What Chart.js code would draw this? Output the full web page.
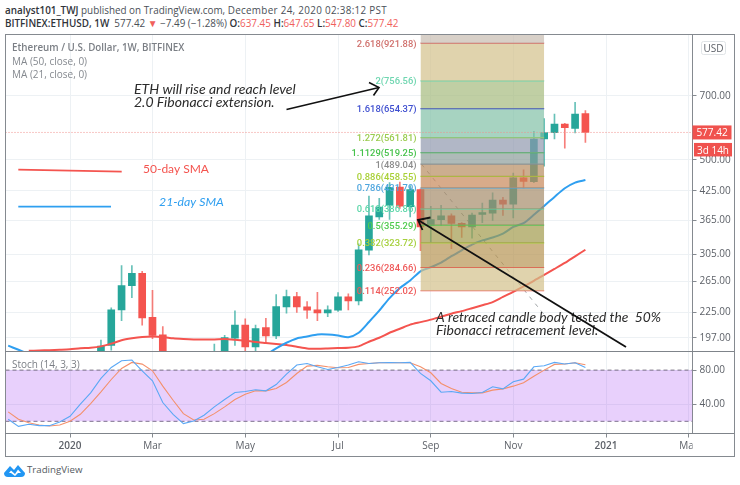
<!DOCTYPE html>
<html>
<head>
<meta charset="utf-8">
<title>ETHUSD</title>
<script src="https://cdn.jsdelivr.net/npm/chart.js@4"></script>
<style>
  body { margin: 0; background: #fff; width: 740px; height: 485px; overflow: hidden; position: relative; font-family: "Open Sans", sans-serif; }
  canvas { position: absolute; left: 0; }
  #priceChart { top: 0; }
  #stochChart { top: 341px; }
  .head { position: absolute; left: 5px; font-size: 9.9px; color: #4a4f57; white-space: pre; }
  .head b { color: #30343a; font-weight: 600; }
  .head i { font-style: normal; color: #f0605c; }
  .head span { letter-spacing: 0.3px; }
  #frame { position: absolute; left: 5px; top: 34px; width: 728px; height: 421px; border: 1.5px solid #858a90; }
  .sep { position: absolute; left: 5px; width: 729px; height: 1px; background: #7f848a; }
  #logo { position: absolute; left: 4px; top: 464px; }
  #tv { position: absolute; left: 27px; top: 463px; font-size: 9.7px; color: #555b62; }
</style>
</head>
<body>
<div class="head" style="top:3px"><b>analyst101_TWJ</b> published on TradingView.com, <span>December 24, 2020 02:38:12 PST</span></div>
<div class="head" style="top:16px"><b>BITFINEX:ETHUSD, 1W</b>  577.42 <i>▼</i> −7.49 (−1.28%) <b>O:</b><i>637.45</i> <b>H:</b><i>647.65</i> <b>L:</b><i>547.80</i> <b>C:</b><i>577.42</i></div>
<canvas id="priceChart" width="740" height="365"></canvas>
<canvas id="stochChart" width="740" height="115"></canvas>
<div id="frame"></div>
<div class="sep" style="top:351px"></div>
<div class="sep" style="top:433px"></div>
<svg id="logo" width="22" height="14" viewBox="0 0 22 14"><path d="M0 9 L6 2 L10 6 L14 1 L21 9 Q21 13 17 13 L4 13 Q0 13 0 9Z M5 9 L7 6.5 L11 10 L14 5.5 L17 9 L14 9 L11 12 L7 9Z" fill="#2196f3" fill-rule="evenodd"/></svg>
<div id="tv">TradingView</div>
<script>
// weeks are counted from the first week of 2020, one candle per week
const xMin = -6.26;
const xMax = 60.39;
const xTickWeeks = [0, 8, 17, 26, 35, 43, 52, 60];
const xTickLabels = ["2020", "Mar", "May", "Jul", "Sep", "Nov", "2021", "Mar"];

const priceMin = 183.8;
const priceMax = 967;
const priceTicks = [700, 500, 425, 365, 305, 265, 225, 197];
const lastPrice = 577.42;

// candles start at week 3, weeks 10-13 are below the visible range
const firstCandle = 3;
const opens = [178, 189.3, 228, 258.7, 276, 219.2, 200, null, null, null, null, 170, 180, 196.5, 210.5, 187.7, 207.8, 199, 231.5, 244.5, 231.6, 228, 224.5, 227.5, 244, 239, 311.5, 371, 394.5, 434, 391.5, 428, 355, 365.5, 373, 358.5, 352, 376, 378.5, 405, 396.5, 455, 446, 558, 577, 603.5, 590, 637.45];
const highs = [194.5, 230.5, 287.5, 287.5, 279, 252.5, 209, null, null, null, null, 190.5, 199.5, 226.8, 217.5, 210.5, 218, 247, 253, 250, 238, 250, 233, 249.5, 248, 322.4, 414, 409, 444, 445, 437, 430, 392, 394, 377, 360, 378.5, 399, 421, 411, 467, 475, 581, 621, 636, 606, 676, 647.65];
const lows = [175, 184.5, 215.5, 243, 210.5, 196, 150, null, null, null, null, 165, 175, 189.3, 180, 183, 191, 196, 224, 225, 218, 215.5, 220, 226, 228, 234, 304, 366, 366, 388, 371, 311, 325, 355, 314, 333, 332, 360, 364, 374, 369, 432, 444, 484, 558, 532, 576, 547.8];
const closes = [188.5, 228, 259, 276, 218.5, 199.5, 170, null, null, null, null, 180, 197.3, 210.5, 187.7, 206.7, 199, 232, 244.5, 231.5, 227.5, 224.5, 228, 244, 239, 312.4, 373, 390.5, 433, 392.5, 428, 352, 366, 373, 358.5, 352, 374.5, 379.5, 405, 396.5, 455, 447, 558, 577, 603.5, 592, 636, 577.42];

const ma50Start = -4;
const ma50 = [184, 184.3, 184.6, 185, 185.5, 186.5, 187, 188.3, 191, 194.4, 196.4, 197.8, 198.3, 197.8, 196.4, 195.7, 195.3, 195.3, 195.3, 195.7, 195, 194, 192.7, 191.7, 190.7, 189.7, 188, 186.3, 186, 186.3, 186.7, 187, 188.3, 192.9, 197, 202.2, 206.5, 211, 213.8, 216.6, 220, 223.5, 226.5, 230, 233.6, 237.5, 244, 250.5, 257.7, 265.5, 274, 282.5, 291.5, 301.8, 312.4];

const ma21Start = -6;
const ma21 = [189, 185, 181, null, null, null, null, null, null, null, null, null, null, null, null, null, null, null, null, null, null, null, null, null, null, 180, 186.3, 191.9, 196.3, 198.3, 200.5, 200.5, 199.4, 197.6, 202.2, 214, 227, 242.5, 255.6, 266, 279, 285, 292, 302, 311.5, 321, 328, 333, 340, 352, 359, 375, 393, 412, 431, 444, 450];

const fibRatios = ["2.618", "2", "1.618", "1.272", "1.1129", "1", "0.886", "0.786", "0.618", "0.5", "0.382", "0.236", "0.114"];
const fibPrices = [921.88, 756.56, 654.37, 561.81, 519.25, 489.04, 458.55, 431.79, 386.86, 355.29, 323.72, 284.66, 252.02];
const fibStart = 34;
const fibEnd = 46;
const fibLineColors = ["#d0706c", "#6fd6b0", "#3f4fd0", "#9ccc50", "#46c24c", "#8c8c8c", "#a8d035", "#4fa6de", "#5ad6a8", "#4fcb4f", "#a6d03c", "#ef5a5a", "#ef5a5a"];
const fibBandColors = ["199,188,176", "211,192,138", "165,186,126", "129,192,166", "144,152,174", "139,157,154", "183,139,95", "199,136,88", "165,139,105", "156,142,95", "161,154,75", "182,148,82", "211,192,138"];

const stochMin = 5.7;
const stochMax = 102.4;
const stochTicks = [80, 40];
const stochStart = -6;
const stochK = [22.4, 14.1, 16.5, 14.9, 14.9, 19.2, 25.9, 40, 53.3, 70.2, 83.1, 91, 91.8, 79.2, 67.5, 42, 28.2, 17.3, 20.4, 27.1, 36.9, 45.5, 53.7, 54.9, 56.9, 55.7, 63.1, 75.3, 85.9, 87.8, 83.9, 80.8, 83.1, 85.9, 89.8, 87.8, 88.6, 89, 88.6, 89, 76.1, 67.5, 54.1, 54.9, 53, 52.5, 53.7, 60.4, 58, 66.3, 69.4, 83.9, 85.1, 89, 87.1, 88.6, 83.1];
const stochD = [31, 22.4, 18.4, 15.7, 14.5, 15.7, 20, 28.2, 40.8, 54.5, 69, 82, 89, 87, 79.2, 61.2, 44.7, 29, 21.6, 22.4, 29, 36.9, 45.5, 51.8, 55.7, 55.7, 58.4, 65.5, 76, 84.7, 85.5, 83.9, 82.7, 83.1, 86.7, 87.8, 88.6, 88.6, 88.6, 88.6, 83.9, 76.9, 64.3, 58.4, 54.1, 53.3, 53.3, 56.5, 58, 61.2, 65.1, 72.9, 80, 86.7, 87.1, 88.6, 86.3];
const stochUpper = 80;
const stochLower = 20;

const upColor = "#26a69a";
const downColor = "#f4544f";
const upWick = "rgba(38,166,154,0.7)";
const downWick = "rgba(244,84,79,0.75)";
const gridColor = "#edf1f4";
const axisColor = "#858a90";
const tickTextColor = "#5d6168";

function toPoints(start, values) {
  return values.map((v, i) => ({ x: start + i, y: v }));
}

function candleBars(lowValues, highValues) {
  const bars = [];
  opens.forEach((o, i) => {
    if (o === null) return;
    bars.push({ x: firstCandle + i, y: [lowValues[i], highValues[i]] });
  });
  return bars;
}

function candleColors(up, down) {
  const colors = [];
  opens.forEach((o, i) => {
    if (o === null) return;
    colors.push(closes[i] >= o ? up : down);
  });
  return colors;
}

function flatLine(x0, x1, y) {
  return [{ x: x0, y: y }, { x: x1, y: y }];
}

function text(ctx, str, x, y, font, color, align) {
  ctx.font = font;
  ctx.fillStyle = color;
  ctx.textAlign = align || "left";
  ctx.textBaseline = "alphabetic";
  ctx.fillText(str, x, y);
}

function stroke(ctx, points, color, width) {
  ctx.beginPath();
  ctx.moveTo(points[0][0], points[0][1]);
  points.slice(1).forEach(p => ctx.lineTo(p[0], p[1]));
  ctx.strokeStyle = color;
  ctx.lineWidth = width;
  ctx.setLineDash([]);
  ctx.stroke();
}

// labels of the fib levels, the notes drawn by the author and the price badges
const priceOverlay = {
  id: "priceOverlay",
  afterDraw(chart) {
    const ctx = chart.ctx;
    const y = chart.scales.y;
    ctx.save();

    text(ctx, "Ethereum / U.S. Dollar, 1W, BITFINEX", 12, 51, "600 9.8px 'Open Sans'", "#7b7f85");
    text(ctx, "MA (50, close, 0)", 12, 65, "10px 'Open Sans'", "#85898f");
    text(ctx, "MA (21, close, 0)", 12, 78, "10px 'Open Sans'", "#85898f");

    fibPrices.forEach((p, i) => {
      text(ctx, fibRatios[i] + "(" + p.toFixed(2) + ")", 416.5, y.getPixelForValue(p) + 3.5, "500 9.4px Roboto", fibLineColors[i], "right");
    });

    text(ctx, "ETH will rise and reach level", 134, 94, "italic 14px Lato", "#2b2b2b");
    text(ctx, "2.0 Fibonacci extension.", 134, 107, "italic 14px Lato", "#2b2b2b");
    stroke(ctx, [[286.5, 109.5], [379, 87.5]], "#111", 1.6);
    stroke(ctx, [[369, 82.5], [379, 87.5], [373.5, 95.5]], "#111", 1.6);

    stroke(ctx, [[18.3, 169.7], [121.7, 171.7]], "#f4544f", 1.8);
    text(ctx, "50-day SMA", 143, 173, "12px Lato", "#f4544f");
    stroke(ctx, [[18.3, 206.6], [111, 206.6]], "#2f9ff0", 1.8);
    text(ctx, "21-day SMA", 159, 206, "italic 12.3px Lato", "#2f9ff0");

    text(ctx, "A retraced candle body tested the  50%", 436, 322, "italic 13.8px Lato", "#2b2b2b");
    text(ctx, "Fibonacci retracement level.", 436, 335, "italic 14px Lato", "#2b2b2b");
    stroke(ctx, [[626, 347], [418, 220]], "#111", 1.8);
    stroke(ctx, [[430.5, 217.5], [418, 220], [422.5, 230]], "#111", 1.8);

    // USD badge and last price badges on the price axis
    ctx.fillStyle = "#fff";
    ctx.strokeStyle = "#dfe3e6";
    ctx.lineWidth = 1;
    ctx.beginPath();
    ctx.roundRect(701.5, 41.5, 24, 13, 2);
    ctx.fill();
    ctx.stroke();
    text(ctx, "USD", 713.5, 52, "10px 'Open Sans'", "#5d6168", "center");

    const py = y.getPixelForValue(lastPrice);
    ctx.fillStyle = "#f0524e";
    ctx.fillRect(692.5, py - 7, 39, 14);
    text(ctx, lastPrice.toFixed(2), 712, py + 3.8, "10px 'Open Sans'", "#fff", "center");
    ctx.fillStyle = "#f0524e";
    ctx.fillRect(694, py + 10.5, 38, 13.5);
    text(ctx, "3d 14h", 713, py + 21.2, "10px 'Open Sans'", "#fff", "center");
    ctx.restore();
  }
};

const stochOverlay = {
  id: "stochOverlay",
  afterDraw(chart) {
    const ctx = chart.ctx;
    ctx.save();
    // the last Mar label runs under the price column
    ctx.fillStyle = "#fff";
    ctx.fillRect(692.5, chart.chartArea.bottom + 1, 41, 21);
    text(ctx, "Stoch (14, 3, 3)", 12, 27, "10px 'Open Sans'", "#7b7f85");
    ctx.restore();
  }
};

function xScale(showLabels) {
  return {
    type: "linear",
    min: xMin,
    max: xMax,
    offset: false,
    afterBuildTicks(scale) {
      scale.ticks = xTickWeeks.map(w => ({ value: w }));
    },
    grid: { color: gridColor, offset: false, drawTicks: showLabels, tickLength: 4, tickColor: axisColor },
    border: { color: axisColor },
    ticks: {
      display: showLabels,
      autoSkip: false,
      maxRotation: 0,
      padding: 3,
      color: tickTextColor,
      font: ctx => ({ family: "'Open Sans'", size: 10, weight: ctx.tick && /^\d/.test(ctx.tick.label) ? "600" : "400" }),
      callback: value => xTickLabels[xTickWeeks.indexOf(value)]
    }
  };
}

function yAxisBase(ticksList) {
  return {
    position: "right",
    afterBuildTicks(scale) {
      scale.ticks = ticksList.map(v => ({ value: v }));
    },
    afterFit(scale) {
      scale.width = 41.5;
    },
    grid: { color: gridColor, tickLength: 4, tickColor: axisColor },
    border: { color: axisColor },
    ticks: {
      autoSkip: false,
      padding: 3,
      color: tickTextColor,
      font: { family: "'Open Sans'", size: 10 },
      callback: value => value.toFixed(2)
    }
  };
}

// the fib bands go on top of candles and averages, like in the original
const fibLevels = [priceMax].concat(fibPrices);
const fibDatasets = fibLevels.map((p, i) => ({
  type: "line",
  data: flatLine(fibStart, fibEnd, p),
  order: 1,
  pointRadius: 0,
  borderWidth: i === 0 ? 0 : 1.2,
  borderColor: i === 0 ? "transparent" : fibLineColors[i - 1],
  backgroundColor: i < fibBandColors.length ? "rgba(" + fibBandColors[i] + ",0.7)" : "transparent",
  fill: i < fibBandColors.length ? "+1" : false
}));

new Chart(document.getElementById("priceChart"), {
  type: "bar",
  data: {
    datasets: fibDatasets.concat([
      {
        type: "line",
        data: [{ x: 34.1, y: 489.04 }, { x: 46.3, y: 218 }],
        order: 1,
        pointRadius: 0,
        borderWidth: 1,
        borderColor: "rgba(120,125,130,0.7)",
        borderDash: [4, 5]
      },
      {
        type: "line",
        data: flatLine(xMin, xMax, lastPrice),
        order: 0,
        pointRadius: 0,
        borderWidth: 1,
        borderColor: "#f0908c",
        borderDash: [1, 2]
      },
      {
        type: "line",
        data: toPoints(ma21Start, ma21),
        order: 2,
        pointRadius: 0,
        borderWidth: 2,
        borderColor: "#2f9ff0",
        tension: 0.25
      },
      {
        type: "line",
        data: toPoints(ma50Start, ma50),
        order: 2,
        pointRadius: 0,
        borderWidth: 2,
        borderColor: "#f4544f",
        tension: 0.25
      },
      {
        data: candleBars(opens, closes),
        order: 3,
        grouped: false,
        barThickness: 7,
        backgroundColor: candleColors(upColor, downColor)
      },
      {
        data: candleBars(lows, highs),
        order: 4,
        grouped: false,
        barThickness: 1,
        backgroundColor: candleColors(upWick, downWick)
      }
    ])
  },
  options: {
    responsive: false,
    animation: false,
    layout: { padding: { left: 5.5, right: 6, top: 34, bottom: 14 } },
    plugins: { legend: { display: false }, tooltip: { enabled: false } },
    scales: {
      x: xScale(false),
      y: Object.assign(yAxisBase(priceTicks), { type: "logarithmic", min: priceMin, max: priceMax })
    }
  },
  plugins: [priceOverlay]
});

new Chart(document.getElementById("stochChart"), {
  type: "line",
  data: {
    datasets: [
      {
        data: flatLine(xMin, xMax, stochUpper),
        order: 3,
        pointRadius: 0,
        borderWidth: 1,
        borderColor: "#7a7285",
        borderDash: [4, 3],
        backgroundColor: "rgba(150,41,241,0.22)",
        fill: "+1"
      },
      {
        data: flatLine(xMin, xMax, stochLower),
        order: 3,
        pointRadius: 0,
        borderWidth: 1,
        borderColor: "#7a7285",
        borderDash: [4, 3]
      },
      {
        data: toPoints(stochStart, stochD),
        order: 2,
        pointRadius: 0,
        borderWidth: 1.1,
        borderColor: "#f4906b"
      },
      {
        data: toPoints(stochStart, stochK),
        order: 1,
        pointRadius: 0,
        borderWidth: 1.1,
        borderColor: "#5ba8f5"
      }
    ]
  },
  options: {
    responsive: false,
    animation: false,
    layout: { padding: { left: 5.5, right: 6, top: 10, bottom: 0 } },
    plugins: { legend: { display: false }, tooltip: { enabled: false } },
    scales: {
      x: Object.assign(xScale(true), { afterFit(scale) { scale.height = 22.5; } }),
      y: Object.assign(yAxisBase(stochTicks), { min: stochMin, max: stochMax })
    }
  },
  plugins: [stochOverlay]
});
</script>
</body>
</html>
